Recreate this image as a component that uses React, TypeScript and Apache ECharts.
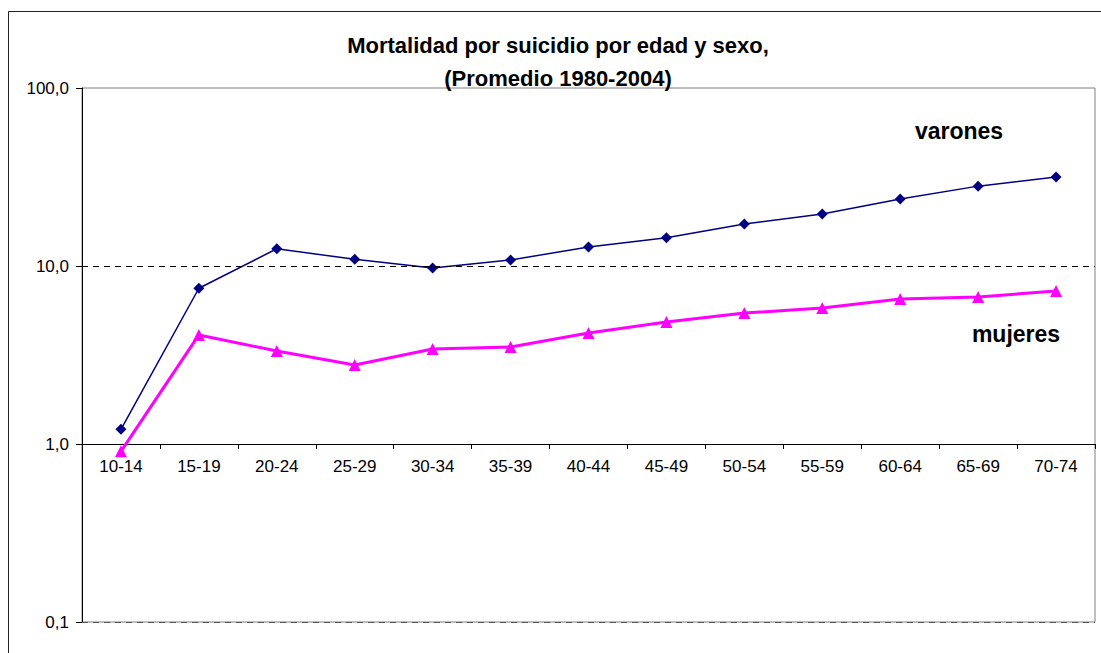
import React, { useEffect, useRef } from "react";
import * as echarts from "echarts";

const categories = ["10-14", "15-19", "20-24", "25-29", "30-34", "35-39", "40-44", "45-49", "50-54", "55-59", "60-64", "65-69", "70-74"];
const varones = [1.21, 7.5, 12.5, 10.9, 9.75, 10.8, 12.8, 14.4, 17.2, 19.6, 23.8, 28.1, 31.6];
const mujeres = [0.91, 4.1, 3.33, 2.78, 3.42, 3.51, 4.2, 4.85, 5.44, 5.81, 6.53, 6.7, 7.24];
const titleLines = ["Mortalidad por suicidio por edad y sexo,", "(Promedio 1980-2004)"];
const seriesNames = ["varones", "mujeres"];

const FONT = "Arial, 'Liberation Sans', sans-serif";

export default function App() {
  const ref = useRef<HTMLDivElement>(null);
  useEffect(() => {
    if (!ref.current) return;
    const chart = echarts.init(ref.current, null, { renderer: "svg" });
    const fmt = (v: number) => Number(v).toFixed(1).replace(".", ",");
    const bigText = (text: string, x: number, y: number, size: number) => ({
      type: "text", x, y,
      style: { text, fontSize: size, fontWeight: "bold", fontFamily: FONT, fill: "#000", textAlign: "center", textVerticalAlign: "middle" },
    });
    chart.setOption({
      animation: false,
      backgroundColor: "#fff",
      grid: [
        { left: 82, right: 6, top: 88, bottom: 31, show: true, borderColor: "#808080", borderWidth: 1, backgroundColor: "transparent" },
        { left: 82, right: 6, top: 88, height: 356 },
      ],
      xAxis: [
        { type: "category", gridIndex: 0, data: categories, boundaryGap: true, axisLine: { show: false }, axisTick: { show: false }, axisLabel: { show: false } },
        {
          type: "category", gridIndex: 1, data: categories, boundaryGap: true,
          axisLine: { show: true, lineStyle: { color: "#000", width: 1 } },
          axisTick: { show: true, length: 5, lineStyle: { color: "#000" } },
          axisLabel: { color: "#000", fontSize: 17, fontFamily: FONT, margin: 14 },
          splitLine: { show: false },
        },
      ],
      yAxis: [
        {
          type: "log", gridIndex: 0, logBase: 10, min: 0.1, max: 100,
          axisLine: { show: true, lineStyle: { color: "#000", width: 1 } },
          axisTick: { show: true, length: 6, lineStyle: { color: "#000" } },
          axisLabel: { color: "#000", fontSize: 17, fontFamily: FONT, margin: 13, formatter: fmt },
          splitLine: { show: false },
        },
        { type: "log", gridIndex: 1, logBase: 10, min: 1, max: 100, show: false, splitLine: { show: false } },
      ],
      graphic: [
        { type: "rect", shape: { x: 8.5, y: 11.5, width: 1300, height: 900 }, style: { fill: "none", stroke: "#222", lineWidth: 1 }, silent: true, z: -1 },
        bigText(titleLines[0], 558, 45, 22),
        bigText(titleLines[1], 558, 78, 22),
        bigText(seriesNames[0], 959, 131, 23),
        bigText(seriesNames[1], 1016, 334, 23),
      ],
      series: [
        {
          name: seriesNames[0], type: "line", xAxisIndex: 0, yAxisIndex: 0, data: varones,
          symbol: "diamond", symbolSize: 11, lineStyle: { color: "#000080", width: 1.5 },
          itemStyle: { color: "#000080" }, clip: false,
          markLine: {
            silent: true, symbol: "none", label: { show: false },
            data: [
              { yAxis: 10, lineStyle: { color: "#000", type: [6, 5], width: 1 } },
              { yAxis: 0.1, lineStyle: { color: "#555", type: [6, 5], width: 1 } },
            ],
          },
        },
        {
          name: seriesNames[1], type: "line", xAxisIndex: 0, yAxisIndex: 0, data: mujeres,
          symbol: "triangle", symbolSize: 12, lineStyle: { color: "#FF00FF", width: 3 },
          itemStyle: { color: "#FF00FF" }, clip: false,
        },
      ],
    });
    return () => chart.dispose();
  }, []);
  return <div ref={ref} style={{ position: "fixed", left: 0, top: 0, width: 1101, height: 653 }} />;
}
